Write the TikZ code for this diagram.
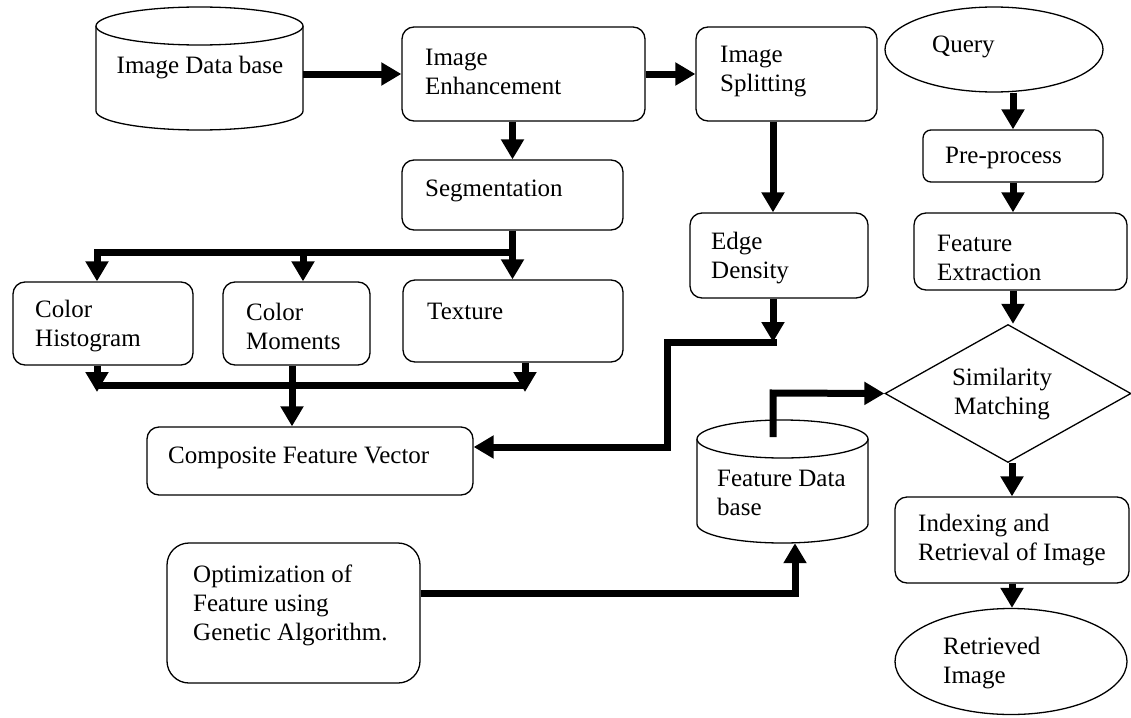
\documentclass[tikz,border=0pt]{standalone}
\usepackage{fontspec}
\setmainfont{Liberation Serif}
\usetikzlibrary{arrows.meta,shapes.geometric}
\begin{document}
\begin{tikzpicture}[x=1pt,y=-1pt,
  outline/.style={draw=black, line width=1.3pt, fill=white},
  box/.style={outline, rounded corners=12pt, inner sep=0pt},
  oval/.style={outline, ellipse, inner sep=0pt},
  ghost/.style={inner sep=0pt},
  txt/.style={font=\fontsize{25}{29}\selectfont, align=left, inner sep=0pt, anchor=west},
  ctxt/.style={font=\fontsize{25}{29}\selectfont, align=center, inner sep=0pt},
  arr/.style={line width=7pt, -{Triangle[width=22pt,length=20pt]}},
  conn/.style={line width=7pt}]
\useasboundingbox (0,0) rectangle (1131,717);

% ---- cylinders (drawn directly) ----
\draw[outline] (96,26) -- (96,111) arc[start angle=180, end angle=0, x radius=103.5, y radius=19] -- (303,26);
\draw[outline] (199.5,26) ellipse[x radius=103.5, y radius=19];
\node[ghost, minimum width=207pt, minimum height=123pt] (idb) at (199.5,68.5) {};

\draw[outline] (697,439) -- (697,524) arc[start angle=180, end angle=0, x radius=85.5, y radius=19] -- (868,439);
\draw[outline] (782.5,439) ellipse[x radius=85.5, y radius=19];
\node[ghost, minimum width=171pt, minimum height=123pt] (fdb) at (782.5,481.5) {};
\coordinate (fdbtop) at (782.5,437);

% ---- boxes ----
\node[box, minimum width=243pt, minimum height=94pt] (enh) at (523.5,74) {};
\node[box, minimum width=181pt, minimum height=94pt] (split) at (786.5,74) {};
\node[box, minimum width=221pt, minimum height=70pt] (seg) at (512.5,195) {};
\node[box, minimum width=178pt, minimum height=85pt] (edge) at (779,255.5) {};
\node[box, rounded corners=8pt, minimum width=180pt, minimum height=52pt] (pre) at (1013,156) {};
\node[box, minimum width=213pt, minimum height=77pt] (fe) at (1020.5,251.5) {};
\node[box, minimum width=180pt, minimum height=83pt] (ch) at (103,323.5) {};
\node[box, minimum width=147pt, minimum height=83pt] (cm) at (296.5,323.5) {};
\node[box, minimum width=220pt, minimum height=82pt] (tex) at (513,321) {};
\node[box, minimum width=326pt, minimum height=68pt] (comp) at (310,461) {};
\node[box, rounded corners=22pt, minimum width=253pt, minimum height=140pt] (opt) at (293.5,613) {};
\node[box, minimum width=234pt, minimum height=86pt] (idx) at (1012,540) {};
\node[oval, minimum width=218pt, minimum height=85pt] (query) at (994,49.5) {};
\node[oval, minimum width=232pt, minimum height=106pt] (ret) at (1011,661.5) {};
\node[outline, diamond, inner sep=0pt, minimum width=246pt, minimum height=138pt] (sim) at (1008,393.5) {};

% ---- texts ----
\node[ctxt] (idbT) at (200,68) {Image Data base};
\node[txt] (enhT) at (425,71.5) {Image\\Enhancement};
\node[txt] (splitT) at (720,71.5) {Image\\Splitting};
\node[txt] (segT) at (425,191) {Segmentation};
\node[txt] (edgeT) at (711,258) {Edge\\Density};
\node[txt] (queryT) at (932,47) {Query};
\node[txt] (preT) at (945,158) {Pre-process};
\node[txt] (feT) at (937,257.5) {Feature\\Extraction};
\node[txt] (chT) at (35,326) {Color\\Histogram};
\node[txt] (cmT) at (246,326) {Color\\Moments};
\node[txt] (texT) at (427,311) {Texture};
\node[txt] (compT) at (168,458) {Composite Feature Vector};
\node[txt] (optT) at (193,605) {Optimization of\\Feature using\\Genetic Algorithm.};
\node[txt] (fdbT) at (717,492.5) {Feature Data\\base};
\node[ctxt] (simT) at (1002,394) {Similarity\\Matching};
\node[txt] (idxT) at (918,540) {Indexing and\\Retrieval of Image};
\node[txt] (retT) at (943,663) {Retrieved\\Image};

% ---- helper coordinates ----
\coordinate (cE) at (773,0);
\coordinate (cR) at (1013,0);
\coordinate (br) at (512.5,252);
\coordinate (b1) at (97,252);
\coordinate (b2) at (303,252);
\coordinate (c2) at (97,385);
\coordinate (c3) at (525,385);
\coordinate (c2t) at (97,392);
\coordinate (c3t) at (525,392);
\coordinate (c4) at (292,0);
\coordinate (e1) at (773,342);
\coordinate (e2) at (667,342);
\coordinate (e3) at (667,447);
\coordinate (f1) at (773,393);
\coordinate (o1) at (795,593);

% ---- connectors ----
\draw[arr] (idb.east |- enh.west) -- (enh.west);
\draw[arr] (enh.east) -- (split.west);
\draw[arr] (seg.north |- enh.south) -- (seg.north);
\draw[arr] (split.south -| cE) -- (edge.north -| cE);
\draw[arr] (pre.north |- query.south) -- (pre.north);
\draw[arr] (pre.south) -- (fe.north -| pre.south);
\draw[arr] (fe.south -| cR) -- (sim.north -| cR);
\draw[arr] (idx.north |- sim.south) -- (idx.north);
\draw[arr] (idx.south) -- (ret.north -| idx.south);

\draw[arr] (seg.south) -- (tex.north -| seg.south);
\draw[arr] (br) -- (b1) -- (b1 |- ch.north);
\draw[arr] (b2) -- (b2 |- cm.north);

\draw[conn] (c2) -- (c3);
\draw[arr] (ch.south -| c2) -- (c2t);
\draw[arr] (tex.south -| c3) -- (c3t);
\draw[arr] (cm.south -| c4) -- (comp.north -| c4);

\draw[arr] (edge.south -| cE) -- (e1);
\draw[arr] ([xshift=3.5pt]e1) -- (e2) -- (e3) -- (comp.east |- e3);

\draw[arr] (fdbtop -| cE) -- (f1) -- (sim.west);
\draw[arr] (opt.east |- o1) -- (o1) -- (o1 |- fdb.south);
\end{tikzpicture}
\end{document}
